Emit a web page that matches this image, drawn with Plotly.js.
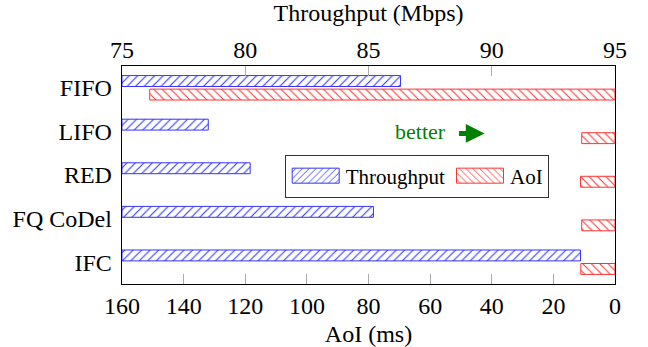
<!DOCTYPE html>
<html>
<head>
<meta charset="utf-8">
<script src="https://cdn.plot.ly/plotly-3.0.1.min.js"></script>
<style>html,body{margin:0;padding:0;background:#fff;}#chart{width:648px;height:347px;}</style>
</head>
<body>
<div id="chart"></div>
<script>
const categories = ["FIFO", "LIFO", "RED", "FQ CoDel", "IFC"];
const throughput = [86.3, 78.5, 80.2, 85.2, 93.6];
const aoi = [151, 10.8, 11.2, 10.8, 11.1];
const throughputTicks = [75, 80, 85, 90, 95];
const aoiTicks = [160, 140, 120, 100, 80, 60, 40, 20, 0];

const FONT = "'Liberation Serif', serif";
const BLUE = "#3333ff";
const RED = "#ff3333";

const traces = [
  {
    type: "bar", orientation: "h", name: "Throughput",
    y: categories, x: throughput.map(v => v - 75), base: 75,
    xaxis: "x2", yaxis: "y",
    offset: -0.28, width: 0.25,
    marker: { color: "rgba(0,0,0,0)", line: { color: BLUE, width: 1 },
      pattern: { shape: "/", fgcolor: BLUE, bgcolor: "white", size: 6, solidity: 0.18 } },
    hoverinfo: "skip"
  },
  {
    type: "bar", orientation: "h", name: "AoI",
    y: categories, x: aoi,
    xaxis: "x", yaxis: "y",
    offset: 0.03, width: 0.25,
    marker: { color: "rgba(0,0,0,0)", line: { color: RED, width: 1 },
      pattern: { shape: "\\", fgcolor: RED, bgcolor: "white", size: 6, solidity: 0.18 } },
    hoverinfo: "skip"
  }
];

const layout = {
  width: 648, height: 347,
  margin: { l: 122.4, r: 32.5, t: 65.5, b: 63.3, pad: 0 },
  paper_bgcolor: "white", plot_bgcolor: "white",
  font: { family: FONT, size: 24, color: "black" },
  showlegend: true,
  legend: {
    orientation: "h", x: 0.33, y: 0.594, xanchor: "left", yanchor: "top",
    bgcolor: "white", bordercolor: "#333", borderwidth: 1,
    font: { family: FONT, size: 21, color: "black" },
    traceorder: "normal", itemwidth: 50
  },
  xaxis: {
    range: [160, 0], tickvals: aoiTicks, ticktext: aoiTicks.map(String),
    ticks: "inside", ticklen: 10, tickcolor: "#aaaaaa", tickwidth: 1,
    showgrid: false, zeroline: false,
    showline: true, linecolor: "black", linewidth: 1.3, mirror: false,
    title: { text: "AoI (ms)", font: { family: FONT, size: 24 }, standoff: 7 },
    tickfont: { family: FONT, size: 24 }, automargin: false
  },
  xaxis2: {
    overlaying: "x", side: "top",
    range: [75, 95], tickvals: throughputTicks, ticktext: throughputTicks.map(String),
    ticks: "inside", ticklen: 10, tickcolor: "#aaaaaa", tickwidth: 1,
    showgrid: false, zeroline: false,
    showline: true, linecolor: "black", linewidth: 1.3,
    title: { text: "Throughput (Mbps)", font: { family: FONT, size: 24 }, standoff: 8 },
    tickfont: { family: FONT, size: 24 }, automargin: false, ticklabelstandoff: -3
  },
  yaxis: {
    type: "category", categoryarray: categories, range: [4.5, -0.5],
    ticks: "", showgrid: false, zeroline: false,
    showline: true, linecolor: "black", linewidth: 1.3, mirror: true,
    tickfont: { family: FONT, size: 24 }, automargin: false, ticklabelstandoff: 4
  },
  annotations: [
    { xref: "paper", yref: "paper", x: 0.6056, y: 0.70, text: "better",
      showarrow: false, font: { family: FONT, size: 22, color: "#008000" },
      xanchor: "center", yanchor: "middle" },
    { xref: "paper", yref: "paper", x: 0.7354, y: 0.6906, text: " ",
      showarrow: true, ax: -30, ay: 0, arrowcolor: "#008000",
      arrowwidth: 5, arrowhead: 2, arrowsize: 0.75, standoff: 0, startstandoff: 0 }
  ]
};

Plotly.newPlot("chart", traces, layout, { staticPlot: true, displayModeBar: false }).then(function (gd) {
  // widen the legend swatches to the long rectangles of the original
  gd.querySelectorAll(".legend .legendpoints path").forEach(function (p) {
    p.setAttribute("d", "M-23.5,7.5H23.5V-7.5H-23.5Z");
  });
});
</script>
</body>
</html>
